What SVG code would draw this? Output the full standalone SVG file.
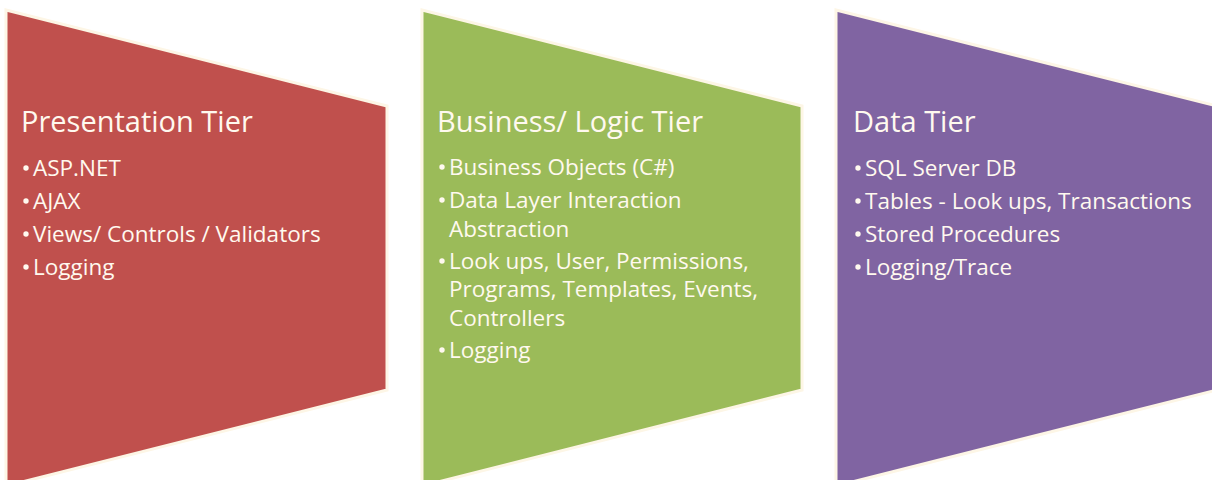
<svg xmlns="http://www.w3.org/2000/svg" width="1212" height="480" viewBox="0 0 1212 480">
<style>
.shape{stroke:#FDF6E6;stroke-width:3;stroke-linejoin:miter}
.title{font-family:"Open Sans","Liberation Sans",sans-serif;font-size:29px;fill:#FFF9EF}
.item{font-family:"Open Sans","Liberation Sans",sans-serif;font-size:22.5px;fill:#FFF9EF}
.bul{fill:#FFF9EF}
</style>
<rect width="1212" height="480" fill="#FFFFFF"/>
<g id="connectors"/>
<g id="presentation-tier">
<polygon class="shape" fill="#C0504D" points="6,10 387,106 387,390 6,486"/>
<text class="title" x="21" y="132">Presentation Tier</text>
<circle class="bul" cx="26" cy="168" r="2.7"/><text class="item" x="33" y="176">ASP.NET</text>
<circle class="bul" cx="26" cy="201" r="2.7"/><text class="item" x="33" y="209">AJAX</text>
<circle class="bul" cx="26" cy="234" r="2.7"/><text class="item" x="33" y="242">Views/ Controls / Validators</text>
<circle class="bul" cx="26" cy="267" r="2.7"/><text class="item" x="33" y="275">Logging</text>
</g>
<g id="business-logic-tier">
<polygon class="shape" fill="#9BBB59" points="422,10 802,106 802,390 422,486"/>
<text class="title" x="437" y="132">Business/ Logic Tier</text>
<circle class="bul" cx="442" cy="167" r="2.7"/><text class="item" x="449" y="175">Business Objects (C#)</text>
<circle class="bul" cx="442" cy="200" r="2.7"/><text class="item" x="449" y="208">Data Layer Interaction</text>
<text class="item" x="449" y="237">Abstraction</text>
<circle class="bul" cx="442" cy="261" r="2.7"/><text class="item" x="449" y="269">Look ups, User, Permissions,</text>
<text class="item" x="449" y="297">Programs, Templates, Events,</text>
<text class="item" x="449" y="326">Controllers</text>
<circle class="bul" cx="442" cy="350" r="2.7"/><text class="item" x="449" y="358">Logging</text>
</g>
<g id="data-tier">
<polygon class="shape" fill="#8064A2" points="836,10 1217,106 1217,390 836,486"/>
<text class="title" x="853" y="132">Data Tier</text>
<circle class="bul" cx="858" cy="168" r="2.7"/><text class="item" x="865" y="176">SQL Server DB</text>
<circle class="bul" cx="858" cy="201" r="2.7"/><text class="item" x="865" y="209">Tables - Look ups, Transactions</text>
<circle class="bul" cx="858" cy="234" r="2.7"/><text class="item" x="865" y="242">Stored Procedures</text>
<circle class="bul" cx="858" cy="267" r="2.7"/><text class="item" x="865" y="275">Logging/Trace</text>
</g>
</svg>
